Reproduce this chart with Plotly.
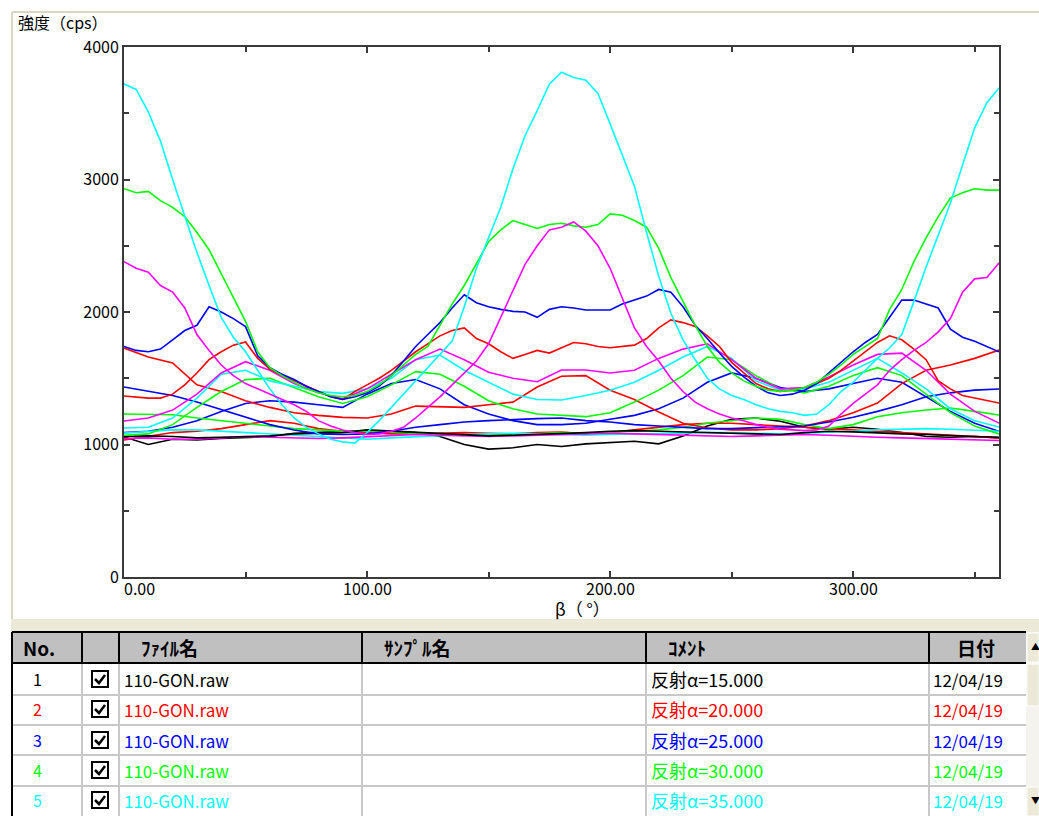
import plotly.graph_objects as go

W, H = 1039, 816
L, R, T, B = 124, 999, 47, 577  # plot area pixel bounds


def px(x):
    return (x - L) / (R - L)


def py(y):
    return (B - y) / (B - T)


BETA5 = list(range(0, 361, 5))
BETA10 = list(range(0, 361, 10))

C1 = [3720, 3680, 3510, 3290, 3000, 2720, 2450, 2200, 1960, 1810, 1700, 1560, 1420, 1300, 1200,
      1130, 1080, 1040, 1020, 1010, 1090, 1180, 1280, 1380, 1480, 1580, 1680, 1780, 2040, 2330,
      2560, 2790, 3080, 3330, 3520, 3720, 3810, 3770, 3750, 3650, 3420, 3190, 2950, 2600, 2270,
      1990, 1790, 1640, 1500, 1420, 1370, 1340, 1300, 1270, 1250, 1240, 1220, 1230, 1300, 1400,
      1470, 1560, 1650, 1730, 1830, 2080, 2340, 2580, 2820, 3110, 3390, 3580, 3690]
G1 = [2930, 2900, 2910, 2840, 2790, 2720, 2600, 2470, 2290, 2110, 1930, 1700, 1580, 1520, 1470,
      1420, 1390, 1370, 1360, 1370, 1400, 1450, 1520, 1600, 1680, 1740, 1900, 2060, 2200, 2370,
      2530, 2620, 2690, 2660, 2630, 2660, 2670, 2650, 2640, 2660, 2740, 2730, 2690, 2640, 2480,
      2260, 2080, 1900, 1740, 1620, 1540, 1480, 1440, 1410, 1400, 1410, 1430, 1470, 1530, 1600,
      1680, 1740, 1800, 2020, 2170, 2380, 2560, 2720, 2860, 2900, 2930, 2920, 2920]
M1 = [2380, 2330, 2300, 2200, 2150, 2030, 1830, 1710, 1600, 1520, 1460, 1420, 1380, 1340, 1300,
      1250, 1180, 1140, 1110, 1090, 1075, 1080, 1100, 1130, 1200, 1280, 1360, 1450, 1540, 1630,
      1760, 1960, 2160, 2360, 2500, 2620, 2640, 2680, 2610, 2500, 2330, 2100, 1880, 1740, 1630,
      1500, 1400, 1320, 1270, 1230, 1200, 1180, 1150, 1130, 1115, 1110, 1105, 1110, 1140, 1230,
      1310, 1380, 1450, 1560, 1640, 1710, 1770, 1850, 1950, 2150, 2250, 2260, 2370]
B1 = [1740, 1710, 1700, 1720, 1790, 1860, 1900, 2040, 2000, 1950, 1890, 1670, 1580, 1530, 1490,
      1440, 1400, 1360, 1340, 1360, 1390, 1440, 1520, 1630, 1740, 1830, 1920, 2030, 2130, 2070,
      2040, 2020, 2005, 2000, 1960, 2020, 2040, 2030, 2015, 2015, 2015, 2060, 2090, 2120, 2170,
      2150, 2040, 1900, 1800, 1690, 1590, 1510, 1440, 1390, 1370, 1380, 1410, 1460, 1540, 1620,
      1700, 1770, 1830, 1960, 2090, 2090, 2060, 2030, 1870, 1810, 1780, 1740, 1700]
R1 = [1366, 1360, 1350, 1350, 1380, 1450, 1540, 1640, 1700, 1750, 1774, 1650, 1570, 1520, 1480,
      1440, 1400, 1360, 1340, 1400, 1450, 1500, 1560, 1630, 1700, 1760, 1820, 1860, 1880, 1800,
      1760, 1700, 1650, 1680, 1710, 1690, 1730, 1770, 1760, 1740, 1730, 1740, 1750, 1800, 1880,
      1940, 1920, 1890, 1820, 1740, 1620, 1540, 1460, 1420, 1400, 1410, 1430, 1460, 1500, 1560,
      1630, 1700, 1770, 1820, 1790, 1720, 1640, 1480, 1420, 1370, 1350, 1330, 1313]

R2 = [1728, 1660, 1615, 1450, 1400, 1330, 1280, 1240, 1220, 1205, 1200, 1230, 1290, 1285, 1280,
      1300, 1320, 1434, 1515, 1520, 1410, 1340, 1245, 1160, 1125, 1110, 1110, 1120, 1140, 1180,
      1240, 1313, 1460, 1560, 1600, 1650, 1713]
B2 = [1434, 1400, 1370, 1320, 1265, 1205, 1150, 1110, 1080, 1075, 1080, 1100, 1130, 1150, 1170,
      1180, 1190, 1195, 1200, 1180, 1170, 1150, 1140, 1130, 1120, 1120, 1125, 1130, 1140, 1170,
      1205, 1250, 1300, 1360, 1390, 1410, 1419]
B3 = [1090, 1100, 1130, 1180, 1250, 1310, 1330, 1320, 1300, 1280, 1380, 1460, 1490, 1420, 1300,
      1230, 1180, 1150, 1150, 1160, 1190, 1220, 1270, 1350, 1470, 1540, 1500, 1430, 1400, 1420,
      1460, 1500, 1470, 1360, 1250, 1160, 1100]
G2 = [1070, 1080, 1150, 1280, 1400, 1490, 1500, 1430, 1360, 1310, 1360, 1450, 1550, 1530, 1440,
      1330, 1270, 1230, 1220, 1210, 1240, 1320, 1410, 1520, 1660, 1640, 1520, 1420, 1390, 1440,
      1520, 1580, 1520, 1380, 1240, 1140, 1080]
G3 = [1230, 1230, 1225, 1200, 1180, 1160, 1140, 1120, 1110, 1100, 1100, 1090, 1080, 1075, 1070,
      1070, 1075, 1080, 1090, 1085, 1090, 1100, 1110, 1130, 1160, 1180, 1200, 1190, 1150, 1120,
      1150, 1210, 1240, 1260, 1275, 1250, 1223]
C2 = [1124, 1130, 1200, 1350, 1530, 1560, 1480, 1440, 1400, 1386, 1420, 1500, 1640, 1675, 1560,
      1470, 1380, 1340, 1336, 1370, 1410, 1470, 1560, 1660, 1740, 1650, 1480, 1410, 1420, 1470,
      1560, 1650, 1540, 1420, 1270, 1180, 1132]
M2 = [1177, 1200, 1260, 1380, 1540, 1625, 1560, 1460, 1390, 1345, 1420, 1530, 1640, 1720, 1640,
      1545, 1500, 1474, 1562, 1562, 1540, 1560, 1650, 1720, 1760, 1640, 1500, 1420, 1430, 1510,
      1600, 1680, 1690, 1560, 1380, 1250, 1162]
C3 = [1087, 1100, 1110, 1110, 1100, 1090, 1080, 1070, 1060, 1050, 1040, 1050, 1060, 1070, 1075,
      1080, 1085, 1080, 1075, 1070, 1075, 1080, 1080, 1085, 1090, 1090, 1085, 1080, 1085, 1090,
      1100, 1110, 1115, 1120, 1115, 1110, 1100]
M3 = [1045, 1050, 1040, 1040, 1050, 1060, 1055, 1050, 1045, 1050, 1060, 1070, 1075, 1070, 1065,
      1060, 1065, 1070, 1072, 1080, 1085, 1080, 1075, 1070, 1065, 1060, 1065, 1070, 1075, 1070,
      1060, 1055, 1050, 1045, 1040, 1035, 1030]
R3 = [1034, 1060, 1090, 1100, 1120, 1150, 1180, 1160, 1120, 1100, 1090, 1080, 1080, 1085, 1090,
      1085, 1080, 1090, 1094, 1080, 1090, 1110, 1130, 1150, 1160, 1160, 1150, 1140, 1130, 1120,
      1110, 1100, 1090, 1080, 1070, 1060, 1050]
K1 = [1057, 1000, 1040, 1034, 1045, 1055, 1060, 1085, 1090, 1095, 1105, 1100, 1090, 1060, 1000,
      965, 975, 1000, 985, 1005, 1015, 1025, 1005, 1065, 1140, 1190, 1200, 1175, 1130, 1115,
      1130, 1115, 1090, 1060, 1055, 1060, 1050]
K2 = [1060, 1065, 1060, 1050, 1055, 1060, 1065, 1080, 1085, 1090, 1110, 1100, 1090, 1080, 1070,
      1065, 1070, 1075, 1080, 1090, 1100, 1105, 1100, 1095, 1090, 1085, 1080, 1075, 1090, 1100,
      1095, 1085, 1080, 1075, 1065, 1060, 1055]

BLACK, RED, BLUE, GREEN, CYAN, MAGENTA = "#000000", "#FF0000", "#0000FF", "#00FF00", "#00FFFF", "#FF00FF"

SERIES = [
    (BETA10, K1, BLACK), (BETA10, R3, RED), (BETA10, B3, BLUE), (BETA10, G3, GREEN),
    (BETA10, C3, CYAN), (BETA10, M3, MAGENTA), (BETA10, K2, BLACK), (BETA10, R2, RED),
    (BETA10, B2, BLUE), (BETA10, G2, GREEN), (BETA10, C2, CYAN), (BETA10, M2, MAGENTA),
    (BETA5, R1, RED), (BETA5, B1, BLUE), (BETA5, G1, GREEN), (BETA5, C1, CYAN), (BETA5, M1, MAGENTA),
]

X_TICKS = [0, 100, 200, 300]
X_TICK_TEXT = ["0.00", "100.00", "200.00", "300.00"]
X_MINOR = [50, 150, 250, 350]
Y_TICKS = [0, 1000, 2000, 3000, 4000]
Y_TICK_TEXT = ["0", "1000", "2000", "3000", "4000"]
Y_MINOR = [500, 1500, 2500, 3500]

TABLE_NO = ["1", "2", "3", "4", "5"]
TABLE_FILE = ["110-GON.raw"] * 5
TABLE_ALPHA = ["15.000", "20.000", "25.000", "30.000", "35.000"]
TABLE_DATE = ["12/04/19"] * 5
TABLE_COLORS = [BLACK, RED, BLUE, GREEN, CYAN]
HEADERS = [("No.", 21), ("ﾌｧｲﾙ名", 139), ("ｻﾝﾌﾟﾙ名", 382), ("ｺﾒﾝﾄ", 666), ("日付", 955)]

FONT = "Noto Sans CJK JP"
AX = "#3a3a3a"

fig = go.Figure()
for xs, ys, col in SERIES:
    fig.add_trace(go.Scatter(x=xs, y=ys, mode="lines", line=dict(color=col, width=1.6),
                             showlegend=False, hoverinfo="skip"))

axis_common = dict(showline=True, linecolor=AX, linewidth=2, mirror="allticks", ticks="inside",
                   ticklen=6, tickwidth=2, tickcolor=AX, showgrid=False, zeroline=False,
                   fixedrange=True)
fig.update_xaxes(range=[0, 360], tickmode="array", tickvals=X_TICKS, showticklabels=False,
                 minor=dict(tickmode="array", tickvals=X_MINOR, ticks="inside", ticklen=5,
                            tickwidth=2, tickcolor=AX), **axis_common)
fig.update_yaxes(range=[0, 4000], tickmode="array", tickvals=Y_TICKS, ticktext=Y_TICK_TEXT,
                 tickfont=dict(family=FONT, size=16, color="#000"),
                 minor=dict(tickmode="array", tickvals=Y_MINOR, ticks="inside", ticklen=5,
                            tickwidth=2, tickcolor=AX), **axis_common)

shapes = []
annots = []


def rect(x0, y0, x1, y1, fill=None, lc=None, lw=0):
    shapes.append(dict(type="rect", xref="paper", yref="paper", x0=px(x0), x1=px(x1),
                       y0=py(y1), y1=py(y0), fillcolor=fill,
                       line=dict(color=lc or "rgba(0,0,0,0)", width=lw), layer="above"))


def seg(x0, y0, x1, y1, col, w):
    shapes.append(dict(type="line", xref="paper", yref="paper", x0=px(x0), x1=px(x1),
                       y0=py(y0), y1=py(y1), line=dict(color=col, width=w), layer="above"))


def text(x, y, s, col="#000", size=17, xa="left", ya="middle", bold=False):
    annots.append(dict(x=px(x), y=py(y), xref="paper", yref="paper", text=(f"<b>{s}</b>" if bold else s),
                       showarrow=False, xanchor=xa, yanchor=ya,
                       font=dict(family=FONT, size=size, color=col)))


# window frame
seg(12, 12, 1039, 12, "#DAD6C4", 2)
seg(12, 12, 12, 620, "#DAD6C4", 2)
rect(11, 619, 1039, 632, fill="#ECE9D8")

# axis tick labels (x) and titles
for v, s in zip(X_TICKS, X_TICK_TEXT):
    annots.append(dict(x=v, y=py(588), xref="x", yref="paper", text=s, showarrow=False,
                       xanchor="left" if v == 0 else "center", yanchor="middle",
                       xshift=-2 if v == 0 else 0,
                       font=dict(family=FONT, size=16, color="#000")))
text(16, 22, "強度（cps）", size=16)
text(582, 608, "β（ °）", size=17, xa="center")

# table
rect(12, 632, 1026, 663, fill="#C0C0C0")
rect(12, 663, 1026, 816, fill="#FFFFFF")
row_lines = [695, 725, 755, 786]
for yv in row_lines:
    seg(13, yv, 1026, yv, "#C8C8C8", 2)
cols = [82, 119, 362, 646, 929]
for xv in cols:
    seg(xv, 663, xv, 816, "#C8C8C8", 2)
    seg(xv, 632, xv, 663, "#000000", 2)
seg(12, 632, 1026, 632, "#000000", 2)
seg(12, 663, 1026, 663, "#000000", 2)
seg(12, 632, 12, 816, "#000000", 2)
for s, xv in HEADERS:
    text(xv, 647, s, size=19, bold=True)

row_c = [679, 709, 740, 770, 800]
for i, yc in enumerate(row_c):
    c = TABLE_COLORS[i]
    text(37, yc, TABLE_NO[i], col=c, size=16, xa="center")
    rect(92, yc - 8, 108, yc + 8, fill="#FFFFFF", lc="#000000", lw=2)
    shapes.append(dict(type="path", xref="paper", yref="paper",
                       path=f"M {px(95)},{py(yc)} L {px(99)},{py(yc + 4)} L {px(105)},{py(yc - 4)}",
                       line=dict(color="#000000", width=2.5), layer="above"))
    text(122, yc, TABLE_FILE[i], col=c, size=17)
    text(649, yc, "反射α=" + TABLE_ALPHA[i], col=c, size=18)
    text(931, yc, TABLE_DATE[i], col=c, size=17)

# scrollbar
rect(1026, 632, 1039, 816, fill="#F4F3EE")
rect(1027, 633, 1039, 662, fill="#ECE9D8", lc="#FFFFFF", lw=1)
text(1035, 646, "▲", size=9, xa="center")
rect(1027, 664, 1039, 706, fill="#ECE9D8", lc="#FFFFFF", lw=1)
rect(1027, 787, 1039, 816, fill="#ECE9D8", lc="#FFFFFF", lw=1)
text(1035, 800, "▼", size=9, xa="center")

fig.update_layout(width=W, height=H, margin=dict(l=L, r=W - R, t=T, b=H - B),
                  paper_bgcolor="#FFFFFF", plot_bgcolor="#FFFFFF",
                  shapes=shapes, annotations=annots, showlegend=False)

fig.write_html("out.html")
